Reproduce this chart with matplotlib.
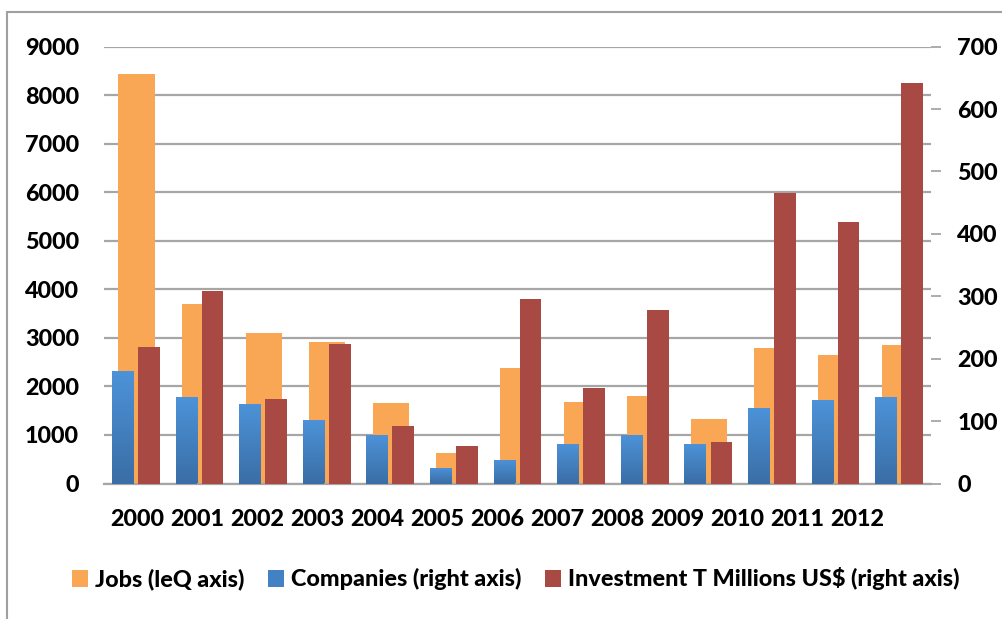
import numpy as np
import matplotlib
matplotlib.use("Agg")
import matplotlib.pyplot as plt
from matplotlib import font_manager
from matplotlib.patches import Rectangle, Patch
from matplotlib.colors import LinearSegmentedColormap

# Data
years = ["2000", "2001", "2002", "2003", "2004", "2005", "2006",
         "2007", "2008", "2009", "2010", "2011", "2012"]
jobs = [8440, 3700, 3100, 2920, 1660, 630, 2380, 1680, 1800, 1330, 2790, 2650, 2855]
companies = [180, 139, 127, 102, 78, 25, 38, 64, 77, 63, 121, 134, 138]
investment = [219, 308, 135, 224, 92, 60, 296, 153, 278, 67, 466, 419, 642]

left_ticks = list(range(0, 9001, 1000))
right_ticks = list(range(0, 701, 100))

ORANGE = "#f9a755"
RED = "#a84a43"
BLUE_TOP = "#4d93d9"
BLUE_BOT = "#3a6ea6"
GRID = "#a6a6a6"
FS = 16.8


def pick_bold_face(candidates):
    """Font file of the first candidate family that ships a full bold face."""
    for fam in candidates:
        for f in font_manager.fontManager.ttflist:
            w = f.weight
            if isinstance(w, str):
                w = 700 if "bold" in w.lower() else 400
            if f.name == fam and w >= 700 and f.style == "normal":
                return f.fname
    return None


BOLD_FILE = pick_bold_face(["Lato", "Open Sans", "Noto Sans", "Roboto", "Liberation Sans"])
if BOLD_FILE:
    FP = font_manager.FontProperties(fname=BOLD_FILE, size=FS)
else:
    FP = font_manager.FontProperties(family="DejaVu Sans", weight="bold", size=FS)

fig = plt.figure(figsize=(10.03, 6.19), dpi=100)
ax = fig.add_axes([104 / 1003, 1 - 483.5 / 619, (931 - 104) / 1003, (483.5 - 46.7) / 619])
ax2 = ax.twinx()

x = np.arange(len(years))

# Jobs on the left axis: wide bars behind
ax.bar(x + 0.01, jobs, width=0.57, color=ORANGE, zorder=2)
ax.set_ylim(0, 9000)
ax.set_yticks(left_ticks, [str(v) for v in left_ticks], fontproperties=FP)
ax.set_xlim(-0.5, len(years) - 0.5)
ax.yaxis.grid(True, color=GRID, linewidth=1.6, zorder=0)
ax.set_axisbelow(True)
ax.tick_params(axis="y", length=0, pad=18)

# Companies and investment on the right axis
off = 0.205
w = 0.34
blue_bars = ax2.bar(x - off, companies, width=w, color=BLUE_BOT, zorder=3)
ax2.bar(x + off, investment, width=w, color=RED, zorder=3)
ax2.set_ylim(0, 700)
ax2.set_yticks(right_ticks, [str(v) for v in right_ticks], fontproperties=FP)
ax2.tick_params(axis="y", length=7, width=1.3, color=GRID, pad=12)

# Vertical gradient on the company bars
grad_cmap = LinearSegmentedColormap.from_list("blue_grad", [BLUE_BOT, BLUE_TOP])
grad = np.linspace(0, 1, 256).reshape(-1, 1)
for b in blue_bars:
    bx, by = b.get_x(), b.get_y()
    bw, bh = b.get_width(), b.get_height()
    im = ax2.imshow(grad, cmap=grad_cmap, aspect="auto", origin="lower",
                    extent=[bx, bx + bw, by, by + bh], zorder=3.5,
                    interpolation="bilinear")
    im.set_clip_path(b)
ax2.set_xlim(-0.5, len(years) - 0.5)
ax2.set_ylim(0, 700)

for a in (ax, ax2):
    for s in a.spines.values():
        s.set_visible(False)
ax2.spines["bottom"].set_visible(True)
ax2.spines["bottom"].set_color(GRID)
ax2.spines["bottom"].set_linewidth(1.6)

# Year labels along the bottom
ax.set_xticks([])
label_step = 60.0 / 63.6
for i, yr in enumerate(years):
    ax.text(0.02 + i * label_step, -0.0835, yr, transform=ax.get_xaxis_transform(),
            ha="center", va="center", fontproperties=FP)

# Legend
handles = [Patch(facecolor=ORANGE), Patch(facecolor="#4281c4"), Patch(facecolor=RED)]
labels = ["Jobs (leQ axis)", "Companies (right axis)", "Investment T Millions US$ (right axis)"]
fig.legend(handles, labels, loc="center", bbox_to_anchor=(516 / 1003, 1 - 579 / 619),
           ncol=3, frameon=False, handlelength=0.7, handleheight=0.7,
           handletextpad=0.3, columnspacing=1.0, prop=FP)

# Chart-area border
fig.patches.append(Rectangle((7 / 1003, -0.1), 1.2, 1.1 - 12 / 619, transform=fig.transFigure,
                             fill=False, edgecolor="#a0a0a0", linewidth=1.5))

fig.savefig("out.png", dpi=100)
